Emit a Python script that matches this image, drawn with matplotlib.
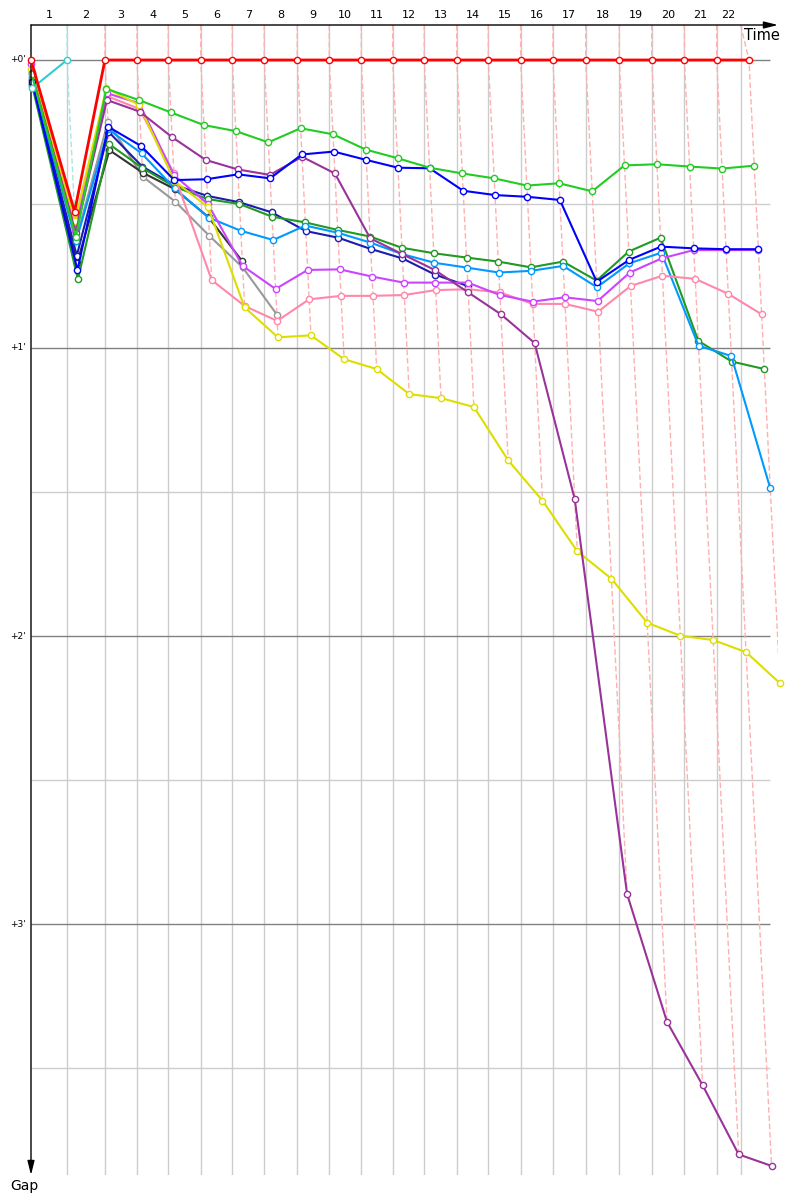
import matplotlib.pyplot as plt

# 선두 차량의 랩 완료 시각 (분, 출발 기준)
lap_times = [0, 2.52, 5.17, 7.41, 9.60, 11.87, 14.08, 16.31, 18.62, 20.86, 23.10,
             25.29, 27.50, 29.77, 31.98, 34.24, 36.50, 38.79, 41.14, 43.41, 45.69,
             47.95, 50.21]
# 세로 격자선 위치 (랩 1~22)
grid_times = lap_times[1:22] + [49.63]
lap_labels = [str(n) for n in range(1, 23)]

# 각 차량의 랩별 선두와의 간격 (분), 0번 = 출발
gap_red = [0, 0.527] + [0] * 21
gap_cyan = [0.097, 0.0]
gap_lime = [0.05, 0.615, 0.10, 0.139, 0.182, 0.226, 0.247, 0.286, 0.237, 0.258, 0.311,
            0.341, 0.374, 0.394, 0.411, 0.436, 0.428, 0.456, 0.366, 0.362, 0.370,
            0.377, 0.367]
gap_blue = [0.075, 0.73, 0.232, 0.299, 0.417, 0.414, 0.397, 0.411, 0.328, 0.318, 0.347,
            0.374, 0.376, 0.454, 0.469, 0.475, 0.486, 0.770, 0.694, 0.648, 0.654,
            0.657, 0.657]
gap_purple = [0.045, 0.60, 0.139, 0.179, 0.268, 0.347, 0.380, 0.399, 0.336, 0.394, 0.619,
              0.674, 0.729, 0.807, 0.883, 0.983, 1.525, 2.896, 3.34, 3.56, 3.80, 3.84]
gap_dkgreen = [0.09, 0.762, 0.292, 0.375, 0.44, 0.483, 0.50, 0.544, 0.564, 0.590, 0.613,
               0.652, 0.671, 0.686, 0.700, 0.720, 0.700, 0.766, 0.665, 0.617, 0.975,
               1.047, 1.073]
gap_navy = [0.07, 0.68, 0.249, 0.370, 0.434, 0.472, 0.494, 0.529, 0.594, 0.617, 0.656,
            0.689, 0.745, 0.785]
gap_ltblue = [0.06, 0.63, 0.241, 0.324, 0.446, 0.547, 0.593, 0.625, 0.575, 0.600, 0.634,
              0.674, 0.704, 0.721, 0.738, 0.732, 0.715, 0.789, 0.706, 0.669, 0.992,
              1.028, 1.487]
gap_violet = [0.015, 0.59, 0.115, 0.150, 0.40, 0.50, 0.715, 0.795, 0.729, 0.727, 0.752,
              0.773, 0.773, 0.773, 0.816, 0.839, 0.824, 0.837, 0.738, 0.689, 0.660,
              0.660, 0.660]
gap_pink = [0.04, 0.575, 0.125, 0.170, 0.394, 0.764, 0.854, 0.906, 0.831, 0.819, 0.819,
            0.816, 0.799, 0.796, 0.807, 0.847, 0.847, 0.874, 0.785, 0.749, 0.760,
            0.812, 0.883]
gap_yellow = [0.03, 0.559, 0.098, 0.156, 0.42, 0.511, 0.859, 0.963, 0.956, 1.039, 1.073,
              1.160, 1.174, 1.205, 1.390, 1.530, 1.706, 1.801, 1.954, 1.999, 2.014,
              2.056, 2.164]
gap_gray = [0.065, 0.625, 0.214, 0.405, 0.492, 0.611, 0.72, 0.884]
gap_black = [0.085, 0.705, 0.313, 0.391, 0.448, 0.546, 0.699]

series = [
    ('#999999', gap_gray, 1.5),
    ('#333333', gap_black, 1.5),
    ('#1c1cae', gap_navy, 1.5),
    ('#229922', gap_dkgreen, 1.5),
    ('#0099ff', gap_ltblue, 1.5),
    ('#ff88aa', gap_pink, 1.5),
    ('#cc44ff', gap_violet, 1.5),
    ('#dddd00', gap_yellow, 1.5),
    ('#993399', gap_purple, 1.5),
    ('#0000ff', gap_blue, 1.5),
    ('#22cc22', gap_lime, 1.5),
    ('#33cccc', gap_cyan, 1.5),
    ('#ff0000', gap_red, 2.0),
]

y_top, y_bot = -0.1215, 3.8715
x_max = 52.24

fig = plt.figure(figsize=(8, 12), dpi=100)
ax = fig.add_axes([31 / 800, 25 / 1200, 747 / 800, 1150 / 1200])
ax.set_xlim(0, x_max)
ax.set_ylim(y_bot, y_top)
ax.set_axis_off()

# 격자
ax.vlines(grid_times, y_top, y_bot, color='#cccccc', lw=1, zorder=0)
ax.hlines([0.5, 1.5, 2.5, 3.5], 0, 51.68, color='#cccccc', lw=1, zorder=0)
ax.hlines([0, 1, 2, 3], 0, 51.68, color='#808080', lw=1, zorder=0.5)

# 랩별 점선 (같은 랩의 점들을 연결)
for n in range(1, 23):
    pts = []
    for color, gaps, lw in series:
        if n < len(gaps):
            pts.append((lap_times[n] + gaps[n], gaps[n]))
    pts.sort(key=lambda p: p[1])
    xs = [grid_times[n - 1]] + [p[0] for p in pts]
    ys = [y_top] + [p[1] for p in pts]
    col = '#a8e6e6' if n == 1 else '#ffb0b0'
    ax.plot(xs, ys, color=col, lw=1, ls=(0, (4, 2)), zorder=1)

# 차량별 선
for k, (color, gaps, lw) in enumerate(series):
    xs = [lap_times[i] + g for i, g in enumerate(gaps)]
    ax.plot(xs, gaps, color=color, lw=lw, marker='o', ms=4.5, mfc='white',
            mec=color, mew=1, zorder=2 + k * 0.1, clip_on=False)

# 축 화살표
arrow = dict(arrowstyle='-|>,head_length=0.6,head_width=0.15', color='black',
             lw=1, shrinkA=0, shrinkB=0, mutation_scale=14)
ax.annotate('', xy=(1, 1), xytext=(0, 1), xycoords='axes fraction', arrowprops=arrow)
ax.annotate('', xy=(0, 0), xytext=(0, 1), xycoords='axes fraction', arrowprops=arrow)

# 랩 번호
prev = 0
for t, lab in zip(grid_times, lap_labels):
    ax.text((prev + t) / 2, 1 + 10 / 1150, lab, transform=ax.get_xaxis_transform(),
            ha='center', va='center', fontsize=8)
    prev = t

# 간격 레이블
for g in [0, 1, 2, 3]:
    ax.annotate(f"+{g}'", xy=(0, g), xycoords=('axes fraction', 'data'),
                xytext=(-4, 0), textcoords='offset points', ha='right', va='center',
                fontsize=6.5)

fig.text(762 / 800, 1 - 36 / 1200, 'Time', ha='center', va='center', fontsize=10.5)
fig.text(24 / 800, 1 - 1186 / 1200, 'Gap', ha='center', va='center', fontsize=10)

fig.savefig('out.png', dpi=100, facecolor='white')
